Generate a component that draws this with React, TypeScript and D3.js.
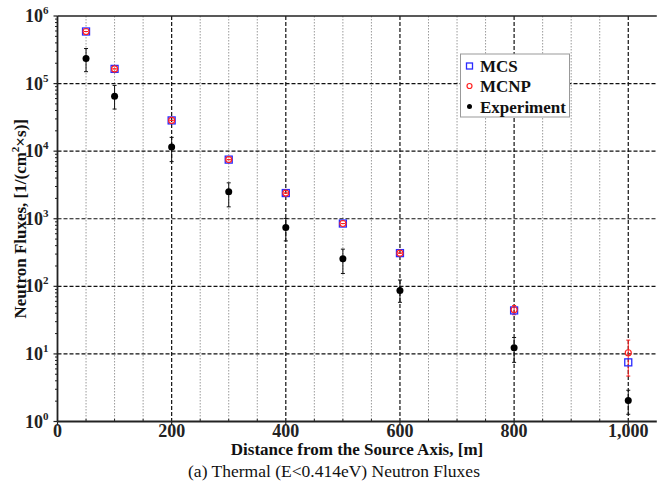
import React from "react";
import * as d3 from "d3";

const distances = [50, 100, 200, 300, 400, 500, 600, 800, 1000];
const mcsValues = [5.9e5, 1.65e5, 2.85e4, 7.5e3, 2.4e3, 850, 310, 44, 7.5];
const mcnpValues = [5.9e5, 1.65e5, 2.85e4, 7.5e3, 2.4e3, 850, 310, 45, 10.4];
const mcnpLow = [5.9e5, 1.65e5, 2.85e4, 7.5e3, 2.4e3, 850, 310, 38, 4.7];
const mcnpHigh = [5.9e5, 1.65e5, 2.85e4, 7.5e3, 2.4e3, 850, 310, 52, 16];
const expValues = [2.35e5, 6.5e4, 1.15e4, 2.5e3, 740, 255, 87, 12.3, 2.05];
const expLow = [1.5e5, 4.2e4, 7.0e3, 1.5e3, 470, 155, 58, 7.5, 1.28];
const expHigh = [3.3e5, 9.4e4, 1.6e4, 3.4e3, 1010, 355, 124, 17.5, 2.9];
const xTicks = [0, 200, 400, 600, 800, 1000];
const xMinor = d3.range(50, 1050, 50);
const yExps = [0, 1, 2, 3, 4, 5, 6];

const W = 657, H = 485;
const L = 57.5, R = 656.8, T = 16, B = 421.5;
const serif = "'Liberation Serif', 'Times New Roman', serif";

export default function App() {
  const x = d3.scaleLinear().domain([0, 1050]).range([L, R]);
  const y = d3.scaleLog().domain([1, 1e6]).range([B, T]);
  const yMinor: number[] = [];
  for (let e = 0; e < 6; e++) for (let k = 2; k <= 9; k++) yMinor.push(k * Math.pow(10, e));
  const fmt = d3.format(",");

  return (
    <svg width={W} height={H} style={{ position: "absolute", left: 0, top: 0, background: "#fff" }}>
      <rect width={W} height={H} fill="#fff" />
      {/* minor vertical grid */}
      {xMinor.filter((v) => v % 200 !== 0).map((v) => (
        <line key={"mv" + v} x1={x(v)} x2={x(v)} y1={T} y2={B} stroke="#9a9a9a" strokeWidth={1} strokeDasharray="1.5,1.5" />
      ))}
      {/* major vertical grid */}
      {xTicks.filter((v) => v > 0).map((v) => (
        <line key={"Mv" + v} x1={x(v)} x2={x(v)} y1={T} y2={B} stroke="#111" strokeWidth={1.2} strokeDasharray="4,2" />
      ))}
      {/* horizontal grid */}
      {yExps.filter((e) => e > 0 && e < 6).map((e) => (
        <line key={"hg" + e} x1={L} x2={R} y1={y(Math.pow(10, e))} y2={y(Math.pow(10, e))} stroke="#111" strokeWidth={1.2} strokeDasharray="4,2" />
      ))}
      {/* axes */}
      <line x1={L} x2={R} y1={T} y2={T} stroke="#222" strokeWidth={1.5} />
      <line x1={L} x2={L} y1={T} y2={B} stroke="#222" strokeWidth={1.8} />
      <line x1={L} x2={R} y1={B} y2={B} stroke="#222" strokeWidth={1.8} />
      {/* y ticks */}
      {yExps.map((e) => (
        <line key={"yt" + e} x1={L - 4} x2={L} y1={y(Math.pow(10, e))} y2={y(Math.pow(10, e))} stroke="#222" strokeWidth={1.2} />
      ))}
      {yMinor.map((v) => (
        <line key={"ym" + v} x1={L - 2.5} x2={L} y1={y(v)} y2={y(v)} stroke="#222" strokeWidth={1} />
      ))}
      {/* x ticks */}
      {xTicks.map((v) => (
        <line key={"xt" + v} x1={x(v)} x2={x(v)} y1={B} y2={B + 4} stroke="#222" strokeWidth={1.2} />
      ))}
      {xMinor.filter((v) => v % 200 !== 0).map((v) => (
        <line key={"xm" + v} x1={x(v)} x2={x(v)} y1={B - 2.5} y2={B} stroke="#222" strokeWidth={1} />
      ))}
      {/* y tick labels */}
      {yExps.map((e) => (
        <text key={"yl" + e} x={L - 9} y={y(Math.pow(10, e)) + 6} textAnchor="end" fontFamily={serif} fontWeight="bold" fontSize={18} fill="#222">
          10<tspan dy={-8} fontSize={11}>{e}</tspan>
        </text>
      ))}
      {/* x tick labels */}
      {xTicks.map((v) => (
        <text key={"xl" + v} x={x(v)} y={437} textAnchor="middle" fontFamily={serif} fontWeight="bold" fontSize={18} fill="#222">
          {fmt(v)}
        </text>
      ))}
      {/* experiment error bars */}
      {distances.map((d, i) => (
        <g key={"ee" + i} stroke="#111" strokeWidth={1}>
          <line x1={x(d)} x2={x(d)} y1={y(expLow[i])} y2={y(expHigh[i])} />
          <line x1={x(d) - 2} x2={x(d) + 2} y1={y(expLow[i])} y2={y(expLow[i])} />
          <line x1={x(d) - 2} x2={x(d) + 2} y1={y(expHigh[i])} y2={y(expHigh[i])} />
        </g>
      ))}
      {/* MCNP error bars */}
      {distances.map((d, i) => (
        <g key={"me" + i} stroke="#ff2020" strokeWidth={1}>
          <line x1={x(d)} x2={x(d)} y1={y(mcnpLow[i])} y2={y(mcnpHigh[i])} />
          <line x1={x(d) - 2} x2={x(d) + 2} y1={y(mcnpLow[i])} y2={y(mcnpLow[i])} />
          <line x1={x(d) - 2} x2={x(d) + 2} y1={y(mcnpHigh[i])} y2={y(mcnpHigh[i])} />
        </g>
      ))}
      {/* experiment points */}
      {distances.map((d, i) => (
        <circle key={"ep" + i} cx={x(d)} cy={y(expValues[i])} r={3.5} fill="#000" />
      ))}
      {/* MCS squares */}
      {distances.map((d, i) => (
        <rect key={"ms" + i} x={x(d) - 3.5} y={y(mcsValues[i]) - 3.5} width={7} height={7} fill="none" stroke="#2a2aff" strokeWidth={1.3} />
      ))}
      {/* MCNP circles */}
      {distances.map((d, i) => (
        <circle key={"mc" + i} cx={x(d)} cy={y(mcnpValues[i])} r={3} fill="none" stroke="#ff2020" strokeWidth={1.2} />
      ))}
      {/* legend */}
      <g>
        <rect x={460.5} y={54} width={109} height={63} fill="#fff" stroke="#999" strokeWidth={1} />
        <rect x={466.5} y={63} width={6} height={6} fill="none" stroke="#2a2aff" strokeWidth={1.3} />
        <text x={480} y={72} fontFamily={serif} fontWeight="bold" fontSize={17} fill="#111">MCS</text>
        <circle cx={469.5} cy={86} r={2.5} fill="none" stroke="#ff2020" strokeWidth={1.2} />
        <text x={480} y={92} fontFamily={serif} fontWeight="bold" fontSize={17} fill="#111">MCNP</text>
        <circle cx={469.5} cy={106.5} r={2.5} fill="#000" />
        <text x={480} y={112.5} fontFamily={serif} fontWeight="bold" fontSize={17} fill="#111">Experiment</text>
      </g>
      {/* axis titles */}
      <text x={357} y={455} textAnchor="middle" fontFamily={serif} fontWeight="bold" fontSize={17} fill="#111">
        Distance from the Source Axis, [m]
      </text>
      <text transform={`translate(26,${(T + B) / 2}) rotate(-90)`} textAnchor="middle" fontFamily={serif} fontWeight="bold" fontSize={17} fill="#111">
        Neutron Fluxes, [1/(cm<tspan dy={-7} fontSize={11}>2</tspan><tspan dy={7}>×s)]</tspan>
      </text>
      <text x={334} y={477} textAnchor="middle" fontFamily={serif} fontSize={17.5} fill="#111">
        (a) Thermal (E&lt;0.414eV) Neutron Fluxes
      </text>
    </svg>
  );
}
